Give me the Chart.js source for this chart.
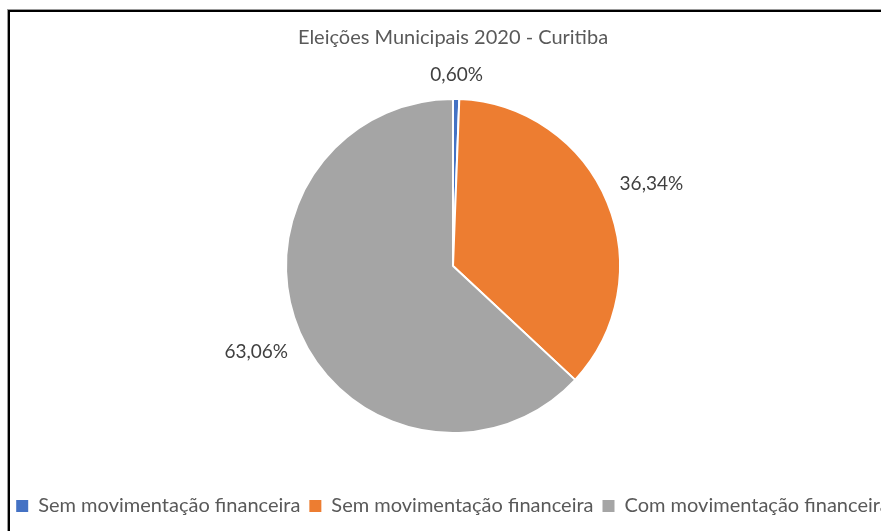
<!DOCTYPE html>
<html>
<head>
<meta charset="utf-8">
<script src="https://cdn.jsdelivr.net/npm/chart.js@4/dist/chart.umd.min.js"></script>
<style>
  html, body { margin: 0; padding: 0; background: #fff; overflow: hidden; width: 881px; height: 531px; }
  #wrap { position: absolute; left: -20px; top: 0; }
  #frame { position: absolute; left: 8px; top: 10px; width: 1000px; height: 1000px;
           border-top: 2px solid #000; border-left: 2px solid #000; box-shadow: -1px -1px 0 #999; pointer-events: none; }
</style>
</head>
<body>
<div id="wrap"><canvas id="c" width="946" height="531"></canvas></div>
<div id="frame"></div>
<script>
const chartTitle = 'Eleições Municipais 2020 - Curitiba';
const categories = ['Sem movimentação financeira', 'Sem movimentação financeira', 'Com movimentação financeira'];
const values = [0.60, 36.34, 63.06];
const sliceColors = ['#4472C4', '#ED7D31', '#A5A5A5'];

const FONT = 'Lato, "Open Sans", sans-serif';

const outsideLabels = {
  id: 'outsideLabels',
  afterDatasetsDraw(chart) {
    const ctx = chart.ctx;
    const meta = chart.getDatasetMeta(0);
    ctx.save();
    ctx.font = '19px ' + FONT;
    ctx.fillStyle = '#404040';
    ctx.textAlign = 'center';
    ctx.textBaseline = 'middle';
    const gap = 15;
    meta.data.forEach((arc, i) => {
      const p = arc.getProps(['x', 'y', 'startAngle', 'endAngle', 'outerRadius'], true);
      const mid = (p.startAngle + p.endAngle) / 2;
      const txt = values[i].toFixed(2).replace('.', ',') + '%';
      const w = ctx.measureText(txt).width;
      const h = 17;
      const c = Math.cos(mid), s = Math.sin(mid);
      const d = p.outerRadius + gap + Math.abs(c) * w / 2 + Math.abs(s) * h / 2;
      ctx.fillText(txt, p.x + c * d, p.y + s * d);
    });
    ctx.restore();
  }
};

const defaultPieLabels = Chart.overrides.pie.plugins.legend.labels.generateLabels;

new Chart(document.getElementById('c'), {
  type: 'pie',
  data: {
    labels: categories,
    datasets: [{
      data: values,
      backgroundColor: sliceColors,
      borderColor: '#ffffff',
      borderWidth: 2,
      hoverOffset: 0,
      radius: 167
    }]
  },
  options: {
    responsive: false,
    animation: false,
    devicePixelRatio: 1,
    layout: { padding: { top: 0, bottom: 5, left: 0, right: 0 } },
    plugins: {
      title: {
        display: true,
        text: chartTitle,
        color: '#595959',
        font: { family: FONT, size: 20, weight: 'normal' },
        padding: { top: 25.5, bottom: -4.5 }
      },
      legend: {
        display: true,
        position: 'bottom',
        labels: {
          color: '#595959',
          font: { family: FONT, size: 20 },
          boxWidth: 12,
          boxHeight: 12,
          padding: 9,
          generateLabels(chart) {
            return defaultPieLabels(chart).map(item => Object.assign(item, { lineWidth: 0 }));
          }
        }
      },
      tooltip: { enabled: false }
    }
  },
  plugins: [outsideLabels]
});
</script>
</body>
</html>
